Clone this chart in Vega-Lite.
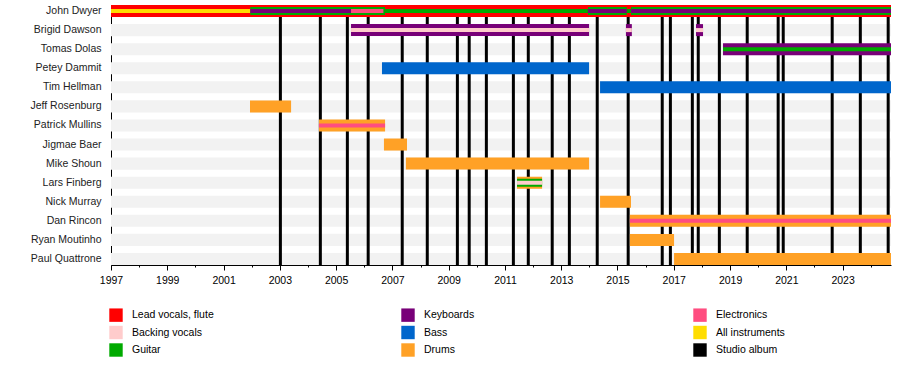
{
  "$schema": "https://vega.github.io/schema/vega-lite/v6.json",
  "width": 780,
  "height": 260,
  "autosize": {"type": "none"},
  "padding": {"left": 111, "top": 5, "right": 9, "bottom": 110},
  "background": "white",
  "config": {
    "view": {"stroke": null},
    "font": "Liberation Sans",
    "axis": {"labelFont": "Liberation Sans", "labelColor": "black", "grid": false},
    "axisY": {"title": null, "ticks": false, "domainColor": "black", "labelPadding": 10, "labelFontSize": 10.5, "labelColor": "#222222"},
    "legend": {"orient": "none", "legendX": -2, "legendY": 303, "columns": 3, "title": null, "symbolType": "square", "symbolSize": 180, "symbolStrokeWidth": 0, "symbolOpacity": 1, "labelFontSize": 10.5, "labelColor": "black", "labelFont": "Liberation Sans", "labelOffset": 9, "rowPadding": 3.5, "columnPadding": 187, "gridAlign": "all", "padding": 0}
  },
  "datasets": {
    "members": [
      {"member": "John Dwyer"}, {"member": "Brigid Dawson"}, {"member": "Tomas Dolas"},
      {"member": "Petey Dammit"}, {"member": "Tim Hellman"}, {"member": "Jeff Rosenburg"},
      {"member": "Patrick Mullins"}, {"member": "Jigmae Baer"}, {"member": "Mike Shoun"},
      {"member": "Lars Finberg"}, {"member": "Nick Murray"}, {"member": "Dan Rincon"},
      {"member": "Ryan Moutinho"}, {"member": "Paul Quattrone"}
    ],
    "albums": [
      {"year": 2003.02}, {"year": 2004.44}, {"year": 2005.40}, {"year": 2006.14},
      {"year": 2007.35}, {"year": 2008.24}, {"year": 2009.31}, {"year": 2009.73},
      {"year": 2010.34}, {"year": 2011.30}, {"year": 2011.83}, {"year": 2012.68},
      {"year": 2013.29}, {"year": 2014.28}, {"year": 2015.38}, {"year": 2016.59},
      {"year": 2016.88}, {"year": 2017.66}, {"year": 2017.87}, {"year": 2018.62},
      {"year": 2019.61}, {"year": 2020.71}, {"year": 2020.89}, {"year": 2022.63},
      {"year": 2023.63}, {"year": 2024.62}
    ],
    "roles": [
      {"member": "John Dwyer", "role": "Lead vocals, flute", "start": 1997, "end": 2024.72, "tier": 1},
      {"member": "John Dwyer", "role": "All instruments", "start": 1997, "end": 2001.95, "tier": 3},
      {"member": "John Dwyer", "role": "Guitar", "start": 2001.95, "end": 2006.74, "tier": 2},
      {"member": "John Dwyer", "role": "Guitar", "start": 2013.95, "end": 2015.33, "tier": 2},
      {"member": "John Dwyer", "role": "Guitar", "start": 2015.48, "end": 2024.72, "tier": 2},
      {"member": "John Dwyer", "role": "Guitar", "start": 2006.74, "end": 2013.95, "tier": 3},
      {"member": "John Dwyer", "role": "Guitar", "start": 2015.33, "end": 2015.48, "tier": 3},
      {"member": "John Dwyer", "role": "Keyboards", "start": 2001.95, "end": 2005.53, "tier": 3},
      {"member": "John Dwyer", "role": "Electronics", "start": 2005.53, "end": 2006.68, "tier": 3},
      {"member": "John Dwyer", "role": "Keyboards", "start": 2013.95, "end": 2015.33, "tier": 3},
      {"member": "John Dwyer", "role": "Keyboards", "start": 2015.48, "end": 2024.72, "tier": 3},
      {"member": "Brigid Dawson", "role": "Keyboards", "start": 2005.53, "end": 2013.99, "tier": 1},
      {"member": "Brigid Dawson", "role": "Backing vocals", "start": 2005.53, "end": 2013.99, "tier": 3},
      {"member": "Brigid Dawson", "role": "Keyboards", "start": 2015.30, "end": 2015.51, "tier": 1},
      {"member": "Brigid Dawson", "role": "Backing vocals", "start": 2015.30, "end": 2015.51, "tier": 3},
      {"member": "Brigid Dawson", "role": "Keyboards", "start": 2017.79, "end": 2018.04, "tier": 1},
      {"member": "Brigid Dawson", "role": "Backing vocals", "start": 2017.79, "end": 2018.04, "tier": 3},
      {"member": "Tomas Dolas", "role": "Keyboards", "start": 2018.75, "end": 2024.72, "tier": 1},
      {"member": "Tomas Dolas", "role": "Guitar", "start": 2018.75, "end": 2024.72, "tier": 3},
      {"member": "Petey Dammit", "role": "Bass", "start": 2006.63, "end": 2013.99, "tier": 1},
      {"member": "Tim Hellman", "role": "Bass", "start": 2014.38, "end": 2024.72, "tier": 1},
      {"member": "Jeff Rosenburg", "role": "Drums", "start": 2001.94, "end": 2003.40, "tier": 1},
      {"member": "Patrick Mullins", "role": "Drums", "start": 2004.39, "end": 2006.74, "tier": 1},
      {"member": "Patrick Mullins", "role": "Electronics", "start": 2004.39, "end": 2006.74, "tier": 3},
      {"member": "Jigmae Baer", "role": "Drums", "start": 2006.70, "end": 2007.52, "tier": 1},
      {"member": "Mike Shoun", "role": "Drums", "start": 2007.48, "end": 2013.99, "tier": 1},
      {"member": "Lars Finberg", "role": "Drums", "start": 2011.43, "end": 2012.32, "tier": 1},
      {"member": "Lars Finberg", "role": "Guitar", "start": 2011.43, "end": 2012.32, "tier": 2},
      {"member": "Lars Finberg", "role": "Backing vocals", "start": 2011.43, "end": 2012.32, "tier": 3},
      {"member": "Nick Murray", "role": "Drums", "start": 2014.38, "end": 2015.48, "tier": 1},
      {"member": "Dan Rincon", "role": "Drums", "start": 2015.44, "end": 2024.72, "tier": 1},
      {"member": "Dan Rincon", "role": "Electronics", "start": 2015.44, "end": 2024.72, "tier": 3},
      {"member": "Ryan Moutinho", "role": "Drums", "start": 2015.44, "end": 2017.01, "tier": 1},
      {"member": "Paul Quattrone", "role": "Drums", "start": 2017.01, "end": 2024.72, "tier": 1}
    ]
  },
  "layer": [
    {
      "data": {"name": "members"},
      "mark": {"type": "bar", "color": "#f2f2f2"},
      "encoding": {
        "y": {
          "field": "member", "type": "nominal",
          "sort": ["John Dwyer", "Brigid Dawson", "Tomas Dolas", "Petey Dammit", "Tim Hellman", "Jeff Rosenburg", "Patrick Mullins", "Jigmae Baer", "Mike Shoun", "Lars Finberg", "Nick Murray", "Dan Rincon", "Ryan Moutinho", "Paul Quattrone"],
          "scale": {"paddingInner": 0.368, "paddingOuter": 0}
        }
      }
    },
    {
      "data": {"name": "albums"},
      "mark": {"type": "rule", "color": "black", "strokeWidth": 3},
      "encoding": {
        "x": {
          "field": "year", "type": "quantitative",
          "scale": {"domain": [1997, 2024.72], "nice": false, "zero": false},
          "axis": {"orient": "bottom", "title": null, "values": [1997, 1999, 2001, 2003, 2005, 2007, 2009, 2011, 2013, 2015, 2017, 2019, 2021, 2023], "format": "d", "tickSize": 5, "tickColor": "black", "domainColor": "black", "labelFontSize": 10.5, "labelPadding": 5, "labelFlush": false}
        }
      }
    },
    {
      "data": {"name": "roles"},
      "transform": [{"filter": "datum.tier == 1"}],
      "mark": {"type": "bar", "height": 12},
      "encoding": {
        "y": {"field": "member", "type": "nominal", "sort": ["John Dwyer", "Brigid Dawson", "Tomas Dolas", "Petey Dammit", "Tim Hellman", "Jeff Rosenburg", "Patrick Mullins", "Jigmae Baer", "Mike Shoun", "Lars Finberg", "Nick Murray", "Dan Rincon", "Ryan Moutinho", "Paul Quattrone"]},
        "x": {
          "field": "start", "type": "quantitative",
          "axis": {"orient": "bottom", "title": null, "values": [1998, 2000, 2002, 2004, 2006, 2008, 2010, 2012, 2014, 2016, 2018, 2020, 2022, 2024], "labels": false, "domain": false, "tickSize": 2, "tickColor": "black"}
        },
        "x2": {"field": "end"},
        "color": {
          "field": "role", "type": "nominal",
          "scale": {
            "domain": ["Lead vocals, flute", "Backing vocals", "Guitar", "Keyboards", "Bass", "Drums", "Electronics", "All instruments", "Studio album"],
            "range": ["#ff0000", "#ffcccc", "#00aa00", "#780078", "#0066cc", "#ffa126", "#ff4d80", "#ffdd00", "#000000"]
          }
        }
      }
    },
    {
      "data": {"name": "roles"},
      "transform": [{"filter": "datum.tier == 2"}],
      "mark": {"type": "bar", "height": 8},
      "encoding": {
        "y": {"field": "member", "type": "nominal", "sort": ["John Dwyer", "Brigid Dawson", "Tomas Dolas", "Petey Dammit", "Tim Hellman", "Jeff Rosenburg", "Patrick Mullins", "Jigmae Baer", "Mike Shoun", "Lars Finberg", "Nick Murray", "Dan Rincon", "Ryan Moutinho", "Paul Quattrone"]},
        "x": {"field": "start", "type": "quantitative", "axis": null},
        "x2": {"field": "end"},
        "color": {"field": "role", "type": "nominal"}
      }
    },
    {
      "data": {"name": "roles"},
      "transform": [{"filter": "datum.tier == 3"}],
      "mark": {"type": "bar", "height": 4},
      "encoding": {
        "y": {"field": "member", "type": "nominal", "sort": ["John Dwyer", "Brigid Dawson", "Tomas Dolas", "Petey Dammit", "Tim Hellman", "Jeff Rosenburg", "Patrick Mullins", "Jigmae Baer", "Mike Shoun", "Lars Finberg", "Nick Murray", "Dan Rincon", "Ryan Moutinho", "Paul Quattrone"]},
        "x": {"field": "start", "type": "quantitative", "axis": null},
        "x2": {"field": "end"},
        "color": {"field": "role", "type": "nominal"}
      }
    }
  ],
  "resolve": {"axis": {"x": "independent"}}
}
